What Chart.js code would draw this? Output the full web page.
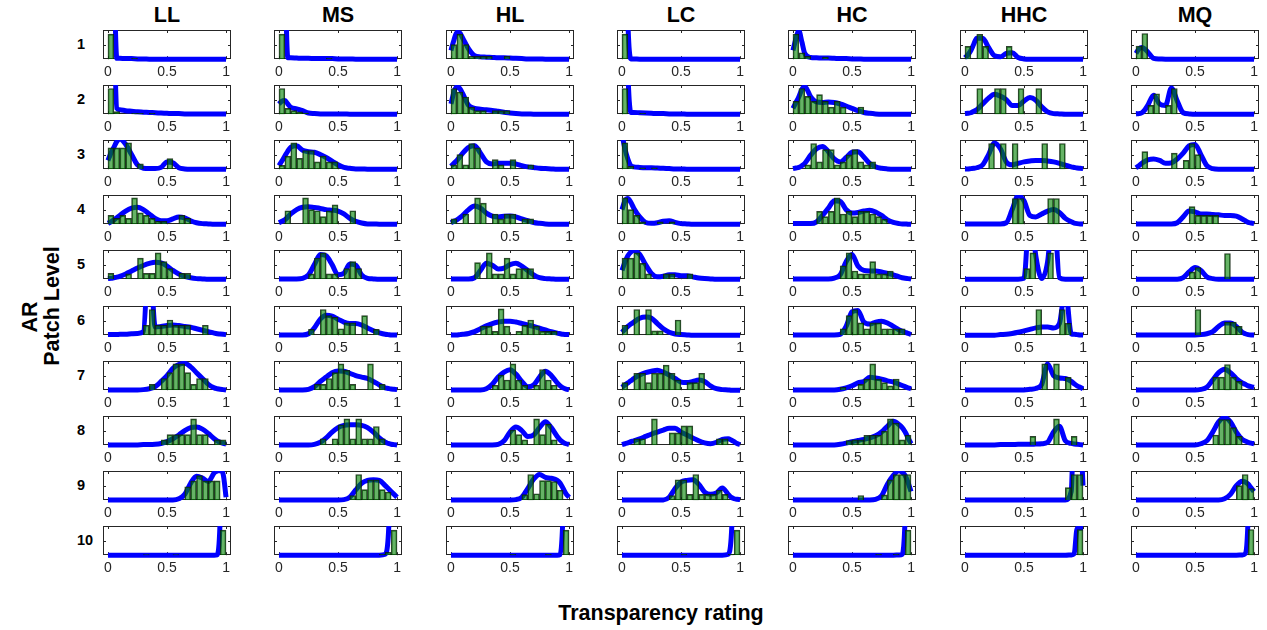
<!DOCTYPE html>
<html>
<head>
<meta charset="utf-8">
<title>Transparency rating by AR patch level</title>
<script src="https://cdn.jsdelivr.net/npm/chart.js@4.4.1/dist/chart.umd.min.js"></script>
<style>
  body { margin: 0; background: #fff; }
  #fig { position: relative; width: 1267px; height: 630px; overflow: hidden; font-family: "Liberation Sans", Arial, Helvetica, sans-serif; }
  #fig canvas { position: absolute; }
  .lbl { position: absolute; font-weight: bold; color: #000; white-space: nowrap; transform: translate(-50%, -50%); }
  .rot { transform: translate(-50%, -50%) rotate(-90deg); }
</style>
</head>
<body>
<div id="fig"></div>
<script>
const groups = ["LL", "MS", "HL", "LC", "HC", "HHC", "MQ"];
const levels = ["1", "2", "3", "4", "5", "6", "7", "8", "9", "10"];
const xTicks = [0, 0.5, 1];
const binCenters = [0.025, 0.075, 0.125, 0.175, 0.225, 0.275, 0.325, 0.375, 0.425, 0.475,
                    0.525, 0.575, 0.625, 0.675, 0.725, 0.775, 0.825, 0.875, 0.925, 0.975];
// curve sample positions, denser near both ends where the densities jump
const curveX = [0, 0.025, 0.05, 0.075, 0.1,
                0.15, 0.2, 0.25, 0.3, 0.35, 0.4, 0.45,
                0.5, 0.55, 0.6, 0.65, 0.7, 0.75, 0.8, 0.85, 0.9,
                0.925, 0.95, 0.975, 1];

// histogram heights (fraction of panel height), one row per patch level
const histLL = [
  [0.86,0,0,0,0.03,0,0,0,0,0,0,0,0,0,0,0,0,0,0,0],
  [0.88,0.09,0,0,0.03,0.03,0,0.03,0,0,0,0,0,0,0,0,0,0,0,0],
  [0.73,0.73,0.73,0.9,0,0.18,0,0,0,0,0.36,0,0,0,0,0,0,0,0,0],
  [0.3,0.2,0.3,0.2,0.9,0.39,0.3,0.2,0.1,0.1,0,0,0.3,0.2,0,0,0,0,0,0],
  [0.2,0,0,0.18,0,0.72,0.2,0.2,0.9,0.6,0.36,0,0.2,0.2,0,0,0,0,0,0],
  [0,0,0,0,0,0,0.34,0.88,0.34,0.34,0.52,0.34,0.34,0.34,0,0,0.34,0,0,0],
  [0,0,0,0,0,0,0,0.2,0,0.4,0.6,0.9,0.9,0.6,0.2,0.4,0.4,0,0,0],
  [0,0,0,0,0,0,0,0,0,0.18,0.36,0.36,0.36,0.36,0.9,0.36,0.36,0,0.18,0.18],
  [0,0,0,0,0,0,0,0,0,0,0,0,0,0.46,0.66,0.84,0.66,0.66,0.66,0],
  [0,0,0,0,0,0,0.02,0,0,0,0,0.02,0,0,0,0,0,0,0,0.86]
];
const histMS = [
  [0.86,0,0,0,0,0,0,0,0.03,0,0,0,0,0,0,0,0,0,0,0],
  [0.88,0.2,0.12,0.08,0.04,0,0,0,0,0,0,0,0,0,0,0,0,0,0,0],
  [0.13,0.45,0.9,0.37,0.64,0.64,0.25,0.45,0.25,0.25,0,0,0,0,0,0,0,0,0,0],
  [0,0.46,0,0,0.9,0.5,0.46,0.26,0.46,0.66,0,0,0.46,0,0,0,0,0,0,0],
  [0,0,0,0,0,0.18,0.72,0.9,0.18,0.18,0,0.36,0.6,0.36,0,0,0,0,0,0],
  [0,0,0,0,0,0.2,0,0.88,0.67,0.61,0.22,0.42,0.42,0,0.67,0,0.2,0,0,0],
  [0,0,0,0,0,0,0.2,0.2,0.4,0.6,0.9,0.68,0.2,0,0,0.9,0,0.2,0,0],
  [0,0,0,0,0,0,0,0.22,0,0.22,0.7,0.9,0.22,0.9,0.22,0.22,0.64,0.22,0,0],
  [0,0,0,0,0,0,0,0,0,0,0,0,0.16,0.88,0.36,0.7,0.7,0.36,0.28,0],
  [0,0,0,0,0,0,0,0,0,0,0,0,0,0,0,0,0,0.03,0.1,0.86]
];
const histHL = [
  [0.5,0.86,0.5,0.1,0.1,0.1,0.1,0,0,0.1,0,0,0,0,0,0,0,0,0,0],
  [0.88,0.76,0.59,0.24,0.12,0.12,0,0.12,0.12,0.12,0,0,0,0,0,0,0,0,0,0],
  [0.15,0.5,0.15,0.88,0.73,0,0,0.33,0.15,0,0.33,0,0,0.15,0,0,0,0,0,0],
  [0.18,0,0.35,0,0.9,0.72,0,0.35,0.18,0.35,0.35,0,0.18,0.18,0,0,0,0,0,0],
  [0,0,0,0,0.57,0,0.9,0.18,0.18,0.72,0.18,0.36,0.36,0.36,0,0,0,0,0,0],
  [0,0,0,0,0,0.31,0.31,0.13,0.9,0.31,0,0.13,0.34,0.52,0.31,0.13,0.13,0.13,0,0],
  [0,0,0,0,0,0,0,0.17,0.52,0.35,0.9,0.35,0.17,0,0.17,0.71,0.35,0.17,0,0],
  [0,0,0,0,0,0,0,0,0,0,0.52,0.36,0.18,0,0.9,0.36,0.72,0.18,0,0],
  [0,0,0,0,0,0,0,0,0,0,0,0,0.19,0.88,0.22,0.67,0.67,0.64,0.34,0],
  [0,0,0,0,0,0,0,0,0,0,0.03,0,0,0,0,0,0.03,0,0,0.86]
];
const histLC = [
  [0.86,0,0,0,0,0,0,0,0,0,0,0,0,0,0,0,0,0,0,0],
  [0.88,0,0,0.03,0,0,0,0,0,0,0,0,0,0,0,0,0,0,0,0],
  [0.9,0.1,0,0.05,0,0.05,0,0,0,0,0,0,0,0,0,0,0,0,0,0],
  [0.9,0.5,0.3,0.08,0,0,0.08,0,0.08,0,0,0,0,0,0,0,0,0,0,0],
  [0.72,0.72,0.9,0.54,0.18,0,0,0.18,0.18,0,0,0.18,0,0,0,0,0,0,0,0],
  [0.34,0,0.88,0,0.88,0.15,0.15,0,0,0.52,0,0,0,0,0,0,0,0,0,0],
  [0.26,0,0.58,0.58,0.26,0.58,0.58,0.86,0.58,0.35,0,0.26,0.26,0.58,0,0,0,0,0,0],
  [0,0,0.22,0.22,0,0.9,0,0,0.42,0.42,0.66,0.66,0,0,0,0,0.22,0.22,0,0],
  [0,0,0,0,0,0,0,0,0.16,0.7,0.7,0.2,0.88,0.2,0.2,0.2,0.34,0.2,0,0],
  [0,0,0,0,0,0,0,0,0,0,0.03,0,0,0,0,0,0,0,0.03,0.86]
];
const histHC = [
  [0.86,0.22,0.1,0,0,0.07,0,0,0,0,0,0,0,0,0,0,0,0,0,0],
  [0.44,0.88,0.61,0.44,0.67,0.44,0.24,0.44,0.24,0,0,0.24,0,0,0,0,0,0,0,0],
  [0,0,0.15,0.88,0.25,0.67,0.67,0.15,0.25,0.49,0.67,0.25,0.15,0.25,0,0,0,0,0,0],
  [0,0,0,0,0.44,0.26,0.44,0.9,0.35,0.44,0.26,0.44,0.44,0.35,0.26,0.17,0,0,0,0],
  [0,0,0,0,0,0,0,0,0.46,0.9,0.28,0.18,0.18,0.6,0.18,0.18,0.28,0,0,0],
  [0,0,0,0,0,0,0,0,0.22,0.67,0.88,0.42,0.22,0.42,0.42,0.22,0.22,0.22,0.22,0],
  [0,0,0,0,0,0,0,0,0.1,0,0,0.2,0.38,0.9,0.38,0.26,0.15,0.38,0,0],
  [0,0,0,0,0,0,0,0,0,0.16,0.18,0.18,0.34,0.34,0.34,0.48,0.9,0.76,0.18,0.34],
  [0,0,0,0,0,0,0,0,0,0,0,0.16,0,0,0,0.18,0.7,0.88,0.88,0.88],
  [0,0,0,0,0,0,0,0,0,0,0,0,0,0,0.03,0,0,0.03,0,0.86]
];
const histHHC = [
  [0.44,0,0.85,0.44,0,0,0,0.44,0,0,0,0,0,0,0,0,0,0,0,0],
  [0,0,0.88,0,0,0.88,0.88,0,0,0.88,0,0,0.88,0,0,0,0,0,0,0],
  [0,0,0,0,0.88,0,0.88,0,0.88,0,0,0,0,0.88,0,0,0.88,0,0,0],
  [0,0,0,0,0,0,0,0,0.88,0.88,0,0,0,0,0.88,0.88,0,0,0,0],
  [0,0,0,0,0,0,0,0,0,0,0.36,0.9,0,0,0.9,0,0,0,0,0],
  [0,0,0,0,0,0,0,0,0,0,0,0,0.88,0,0,0,0.88,0.41,0,0],
  [0,0,0,0,0,0,0,0,0,0,0,0,0,0.9,0,0.9,0,0.44,0,0],
  [0,0,0,0,0,0,0,0,0,0,0,0.3,0,0,0,0.9,0,0,0.3,0],
  [0,0,0,0,0,0,0,0,0,0,0,0,0,0,0,0,0,0.43,0.88,0.88],
  [0,0,0,0,0,0,0,0,0,0,0,0,0,0,0,0,0,0,0,0.88]
];
const histMQ = [
  [0.45,0.88,0,0,0,0,0,0,0,0,0,0,0,0,0,0,0,0,0,0],
  [0,0,0.3,0.7,0,0.3,0.88,0,0,0,0,0,0,0,0,0,0,0,0,0],
  [0,0.6,0,0,0,0,0.55,0,0.3,0.88,0.5,0,0,0,0,0,0,0,0,0],
  [0,0,0,0,0,0,0,0,0,0.6,0.3,0.3,0.3,0.3,0,0,0,0,0,0],
  [0,0,0,0,0,0,0,0,0,0.25,0.4,0,0,0,0,0.88,0,0,0,0],
  [0,0,0,0,0,0,0,0,0,0,0.88,0,0,0,0,0.45,0.45,0.3,0,0],
  [0,0,0,0,0,0,0,0,0,0,0,0,0,0.45,0.45,0.88,0.45,0.3,0,0],
  [0,0,0,0,0,0,0,0,0,0,0,0,0,0.35,0.88,0.88,0.6,0.3,0,0],
  [0,0,0,0,0,0,0,0,0,0,0,0,0,0,0,0,0,0.5,0.88,0.4],
  [0,0,0,0,0,0,0,0,0,0,0,0,0,0,0,0,0,0,0,0.88]
];

// density curves sampled at curveX, same vertical units (values above 1 leave the panel)
const curveLL = [
  [6,6,3,0.03,0.03,  0.02,0.02,0.01,0.01,0,0,0,  0,0,0,0,0,0,0,0,0,  0,0,0,0],
  [6,6,3,0.2,0.15,  0.12,0.1,0.08,0.07,0.06,0.05,0.04,  0.03,0.02,0.02,0.01,0.01,0.01,0.01,0.01,0.01,  0.01,0.01,0.01,0.01],
  [0.3,0.55,0.75,0.95,1.03,  0.85,0.5,0.15,0.03,0.02,0.02,0.06,  0.25,0.22,0.05,0.01,0,0,0,0,0,  0,0,0,0],
  [0.03,0.08,0.15,0.22,0.3,  0.45,0.55,0.58,0.5,0.35,0.2,0.12,  0.12,0.18,0.25,0.22,0.12,0.05,0.02,0.01,0,  0,0,0,0],
  [0.02,0.03,0.05,0.07,0.1,  0.18,0.28,0.38,0.47,0.54,0.58,0.56,  0.45,0.3,0.18,0.1,0.05,0.02,0.01,0,0,  0,0,0,0],
  [0.02,0.02,0.02,0.02,0.03,  0.03,0.05,0.06,0.12,3,0.28,0.3,  0.33,0.35,0.33,0.3,0.27,0.22,0.17,0.12,0.07,  0.05,0.04,0.03,0.02],
  [0.01,0.01,0.01,0.01,0.01,  0.01,0.01,0.01,0.02,0.05,0.12,0.3,  0.5,0.75,0.88,0.92,0.8,0.6,0.4,0.2,0.08,  0.05,0.03,0.02,0.01],
  [0.01,0.01,0.01,0.01,0.01,  0.01,0.01,0.01,0.02,0.02,0.03,0.06,  0.12,0.22,0.35,0.5,0.6,0.62,0.55,0.4,0.22,  0.15,0.1,0.06,0.04],
  [0.01,0.01,0.01,0.01,0.01,  0.01,0.01,0.01,0.01,0.01,0.01,0.01,  0.01,0.01,0.05,0.2,0.58,0.82,0.76,0.64,0.94,  1.0,1.02,0.9,0.1],
  [0,0,0,0,0,  0,0,0,0,0,0,0,  0,0,0,0,0,0,0,0,0,  0.01,1.2,6,6]
];
const curveMS = [
  [6,6,3,0.05,0.05,  0.04,0.03,0.03,0.02,0.02,0.02,0.02,  0.01,0.01,0.01,0,0,0,0,0,0,  0,0,0,0],
  [0.35,0.45,0.47,0.35,0.24,  0.18,0.12,0.04,0.02,0.01,0.01,0.01,  0.01,0.01,0,0,0,0,0,0,0,  0,0,0,0],
  [0.12,0.28,0.45,0.62,0.75,  0.8,0.65,0.6,0.58,0.5,0.4,0.28,  0.15,0.06,0.03,0.01,0.01,0,0,0,0,  0,0,0,0],
  [0.05,0.1,0.15,0.25,0.35,  0.5,0.58,0.6,0.57,0.54,0.5,0.48,  0.45,0.35,0.2,0.1,0.04,0.01,0.01,0,0,  0,0,0,0],
  [0.01,0.01,0.01,0.01,0.01,  0.01,0.03,0.15,0.5,0.85,0.8,0.5,  0.15,0.2,0.52,0.48,0.15,0.03,0.01,0,0,  0,0,0,0],
  [0.01,0.01,0.01,0.01,0.01,  0.01,0.01,0.05,0.25,0.55,0.68,0.65,  0.55,0.45,0.4,0.4,0.35,0.25,0.15,0.08,0.03,  0.02,0.01,0.01,0.01],
  [0.01,0.01,0.01,0.01,0.01,  0.01,0.01,0.03,0.12,0.3,0.45,0.6,  0.66,0.65,0.58,0.5,0.45,0.4,0.3,0.18,0.08,  0.06,0.04,0.03,0.02],
  [0.01,0.01,0.01,0.01,0.01,  0.01,0.01,0.01,0.03,0.1,0.25,0.45,  0.6,0.68,0.7,0.7,0.68,0.6,0.45,0.25,0.1,  0.06,0.03,0.02,0.01],
  [0.01,0.01,0.01,0.01,0.01,  0.01,0.01,0.01,0.01,0.01,0.01,0.01,  0.01,0.02,0.1,0.35,0.58,0.68,0.7,0.68,0.5,  0.4,0.3,0.2,0.1],
  [0,0,0,0,0,  0,0,0,0,0,0,0,  0,0,0,0,0,0,0,0,0.03,  0.6,3,6,6]
];
const curveHL = [
  [0.3,0.65,0.92,0.9,0.72,  0.35,0.12,0.08,0.07,0.06,0.05,0.05,  0.04,0.03,0.02,0.01,0.01,0.01,0,0,0,  0,0,0,0],
  [0.35,0.75,0.95,0.88,0.7,  0.3,0.2,0.17,0.15,0.13,0.1,0.07,  0.04,0.02,0.01,0.01,0,0,0,0,0,  0,0,0,0],
  [0.1,0.2,0.3,0.42,0.55,  0.75,0.8,0.55,0.25,0.18,0.2,0.2,  0.2,0.18,0.12,0.08,0.06,0.03,0.02,0.01,0,  0,0,0,0],
  [0.05,0.1,0.15,0.22,0.3,  0.5,0.62,0.55,0.38,0.28,0.25,0.27,  0.28,0.25,0.18,0.12,0.06,0.03,0.01,0,0,  0,0,0,0],
  [0.01,0.01,0.01,0.01,0.01,  0.01,0.05,0.3,0.55,0.48,0.35,0.38,  0.5,0.55,0.45,0.3,0.15,0.05,0.02,0.01,0,  0,0,0,0],
  [0.01,0.01,0.01,0.02,0.03,  0.06,0.12,0.22,0.32,0.4,0.45,0.48,  0.48,0.45,0.4,0.35,0.3,0.24,0.18,0.12,0.07,  0.05,0.03,0.02,0.02],
  [0.01,0.01,0.01,0.01,0.01,  0.01,0.01,0.01,0.05,0.2,0.45,0.62,  0.7,0.55,0.3,0.12,0.18,0.45,0.65,0.5,0.25,  0.15,0.08,0.04,0.02],
  [0.01,0.01,0.01,0.01,0.01,  0.01,0.01,0.01,0.01,0.01,0.03,0.15,  0.45,0.62,0.5,0.3,0.35,0.6,0.8,0.6,0.3,  0.18,0.1,0.05,0.03],
  [0.01,0.01,0.01,0.01,0.01,  0.01,0.01,0.01,0.01,0.01,0.01,0.01,  0.01,0.02,0.1,0.4,0.72,0.88,0.78,0.75,0.68,  0.58,0.4,0.22,0.1],
  [0,0,0,0,0,  0,0,0,0,0,0,0,  0,0,0,0,0,0,0,0,0,  0.02,1.5,6,6]
];
const curveLC = [
  [6,6,1.3,0.01,0.01,  0,0,0,0,0,0,0,  0,0,0,0,0,0,0,0,0,  0,0,0,0],
  [6,6,1.5,0.06,0.06,  0.05,0.04,0.03,0.02,0.02,0.01,0.01,  0.01,0,0,0,0,0,0,0,0,  0,0,0,0],
  [1.2,0.7,0.35,0.12,0.08,  0.06,0.05,0.05,0.04,0.03,0.02,0.01,  0.01,0,0,0,0,0,0,0,0,  0,0,0,0],
  [0.5,0.8,0.88,0.75,0.55,  0.25,0.06,0.03,0.05,0.1,0.12,0.06,  0.02,0.01,0,0,0,0,0,0,0,  0,0,0,0],
  [0.3,0.58,0.8,0.93,0.98,  0.85,0.5,0.2,0.08,0.1,0.15,0.15,  0.12,0.12,0.08,0.04,0.02,0.01,0,0,0,  0,0,0,0],
  [0.1,0.2,0.3,0.38,0.45,  0.58,0.62,0.58,0.4,0.22,0.1,0.04,  0.02,0.01,0,0,0,0,0,0,0,  0,0,0,0],
  [0.1,0.18,0.25,0.32,0.4,  0.52,0.6,0.65,0.68,0.62,0.52,0.4,  0.28,0.26,0.3,0.35,0.3,0.15,0.05,0.02,0.01,  0,0,0,0],
  [0.02,0.05,0.08,0.12,0.15,  0.22,0.3,0.38,0.45,0.52,0.58,0.58,  0.45,0.35,0.25,0.15,0.08,0.05,0.1,0.2,0.22,  0.18,0.12,0.06,0.02],
  [0.01,0.01,0.01,0.01,0.01,  0.01,0.01,0.01,0.01,0.01,0.1,0.4,  0.62,0.68,0.7,0.55,0.28,0.2,0.25,0.42,0.2,  0.1,0.05,0.03,0.02],
  [0,0,0,0,0,  0,0,0,0,0,0,0,  0,0,0,0,0,0,0,0,0.03,  0.6,3,6,6]
];
const curveHC = [
  [0.3,0.7,0.97,0.6,0.2,  0.06,0.05,0.04,0.04,0.03,0.02,0.02,  0.01,0.01,0,0,0,0,0,0,0,  0,0,0,0],
  [0.2,0.4,0.6,0.85,0.95,  0.6,0.42,0.4,0.42,0.4,0.35,0.28,  0.2,0.12,0.06,0.03,0.01,0,0,0,0,  0,0,0,0],
  [0.02,0.04,0.06,0.12,0.2,  0.48,0.7,0.78,0.6,0.35,0.25,0.4,  0.58,0.6,0.42,0.2,0.08,0.03,0.01,0,0,  0,0,0,0],
  [0.02,0.02,0.02,0.02,0.02,  0.02,0.08,0.3,0.55,0.8,0.78,0.5,  0.38,0.4,0.45,0.48,0.42,0.3,0.15,0.06,0.02,  0.01,0.01,0,0],
  [0.01,0.01,0.01,0.01,0.01,  0.01,0.01,0.01,0.01,0.04,0.15,0.6,  0.85,0.45,0.3,0.28,0.28,0.25,0.2,0.15,0.08,  0.05,0.03,0.02,0.01],
  [0.01,0.01,0.01,0.01,0.01,  0.01,0.01,0.01,0.01,0.01,0.03,0.3,  0.8,0.85,0.45,0.38,0.45,0.48,0.42,0.3,0.18,  0.14,0.1,0.06,0.03],
  [0.01,0.01,0.01,0.01,0.01,  0.01,0.01,0.01,0.01,0.01,0.03,0.08,  0.15,0.25,0.3,0.44,0.42,0.38,0.32,0.28,0.2,  0.16,0.12,0.08,0.05],
  [0.01,0.01,0.01,0.01,0.01,  0.01,0.01,0.01,0.01,0.01,0.03,0.07,  0.12,0.16,0.2,0.25,0.32,0.45,0.65,0.82,0.7,  0.6,0.45,0.25,0.05],
  [0.01,0.01,0.01,0.01,0.01,  0.01,0.01,0.01,0.01,0.01,0.01,0.01,  0.01,0.01,0.01,0.01,0.03,0.15,0.55,0.85,1.02,  0.95,0.85,0.6,0.3],
  [0,0,0,0,0,  0,0,0,0,0,0,0,  0,0,0,0,0,0,0,0,0.01,  0.03,1.3,6,6]
];
const curveHHC = [
  [0.05,0.15,0.3,0.52,0.72,  0.72,0.4,0.12,0.08,0.2,0.22,0.06,  0.01,0,0,0,0,0,0,0,0,  0,0,0,0],
  [0.02,0.03,0.05,0.1,0.15,  0.35,0.55,0.68,0.62,0.5,0.3,0.3,  0.45,0.57,0.48,0.25,0.08,0.02,0.01,0,0,  0,0,0,0],
  [0.01,0.01,0.02,0.03,0.05,  0.15,0.5,0.9,0.7,0.25,0.15,0.2,  0.25,0.28,0.3,0.3,0.28,0.25,0.2,0.14,0.08,  0.06,0.04,0.03,0.02],
  [0.01,0.01,0.01,0.01,0.01,  0.01,0.01,0.01,0.01,0.05,0.5,0.98,  0.8,0.3,0.25,0.35,0.45,0.5,0.4,0.2,0.08,  0.04,0.02,0.01,0.01],
  [0,0,0,0,0,  0,0,0,0,0,0,0,  0.03,2.5,0.8,0.02,0.6,2.5,0.05,0,0,  0,0,0,0],
  [0,0,0,0,0,  0,0,0,0.02,0.03,0.06,0.1,  0.15,0.2,0.25,0.28,0.28,0.25,0.4,1.6,0.05,  0.03,0.02,0.01,0.01],
  [0.01,0.01,0.01,0.01,0.01,  0.01,0.01,0.01,0.01,0.01,0.01,0.01,  0.01,0.03,0.06,0.2,0.9,0.5,0.42,0.4,0.3,  0.22,0.15,0.1,0.05],
  [0.01,0.01,0.01,0.01,0.01,  0.01,0.01,0.01,0.02,0.02,0.02,0.03,  0.03,0.03,0.04,0.05,0.1,0.45,0.65,0.15,0.06,  0.04,0.03,0.02,0.01],
  [0.01,0.01,0.01,0.01,0.01,  0.01,0.01,0.01,0.01,0.01,0.01,0.01,  0.01,0.01,0.01,0.01,0.01,0.01,0.01,0.01,0.3,  3,3,2.5,0.5],
  [0,0,0,0,0,  0,0,0,0,0,0,0,  0,0,0,0,0,0,0,0,0.01,  0.05,0.92,0.93,0.93]
];
const curveMQ = [
  [0.2,0.35,0.4,0.35,0.25,  0.03,0.01,0,0,0,0,0,  0,0,0,0,0,0,0,0,0,  0,0,0,0],
  [0.01,0.02,0.05,0.15,0.3,  0.65,0.35,0.3,0.9,0.45,0.05,0.01,  0,0,0,0,0,0,0,0,0,  0,0,0,0],
  [0.05,0.12,0.2,0.27,0.32,  0.35,0.3,0.2,0.22,0.35,0.55,0.8,  0.85,0.5,0.12,0.02,0,0,0,0,0,  0,0,0,0],
  [0.01,0.01,0.01,0.01,0.01,  0.01,0.01,0.01,0.01,0.05,0.25,0.45,  0.42,0.35,0.35,0.33,0.32,0.3,0.3,0.28,0.18,  0.12,0.06,0.04,0.02],
  [0,0,0,0,0,  0,0,0,0,0,0.05,0.25,  0.4,0.3,0.08,0.02,0,0,0,0,0,  0,0,0,0],
  [0.01,0.01,0.01,0.01,0.01,  0.01,0.01,0.01,0.01,0.01,0.01,0.01,  0.01,0.02,0.05,0.12,0.3,0.42,0.42,0.3,0.1,  0.05,0.02,0.01,0.01],
  [0.01,0.01,0.01,0.01,0.01,  0.01,0.01,0.01,0.01,0.01,0.01,0.01,  0.01,0.03,0.1,0.35,0.6,0.72,0.6,0.4,0.25,  0.2,0.15,0.12,0.1],
  [0.01,0.01,0.01,0.01,0.01,  0.01,0.01,0.01,0.01,0.01,0.01,0.01,  0.01,0.05,0.15,0.45,0.8,0.95,0.8,0.45,0.2,  0.14,0.1,0.07,0.05],
  [0.01,0.01,0.01,0.01,0.01,  0.01,0.01,0.01,0.01,0.01,0.01,0.01,  0.01,0.01,0.01,0.01,0.01,0.05,0.2,0.5,0.65,  0.62,0.55,0.42,0.3],
  [0,0,0,0,0,  0,0,0,0,0,0,0,  0,0,0,0,0,0,0,0,0.01,  0.05,1.3,6,6]
];

const histByGroup = [histLL, histMS, histHL, histLC, histHC, histHHC, histMQ];
const curveByGroup = [curveLL, curveMS, curveHL, curveLC, curveHC, curveHHC, curveMQ];

const FONT = '"Liberation Sans", Arial, Helvetica, sans-serif';
// axis strip below each panel: tick gap (5) + one 14px label line (16.8)
const boxW = 128, boxH = 29, axisH = 22;

function panelLeft(c) { return Math.round(103 + 171.3 * c); }
function panelTop(r) { return Math.round(30 + 55.1 * r); }

// thin axes frame with inward tick marks, drawn under the data
const axesBox = {
  id: "axesBox",
  beforeDatasetsDraw(chart) {
    const { ctx, chartArea: a, scales } = chart;
    ctx.save();
    ctx.strokeStyle = "#262626";
    ctx.lineWidth = 1;
    ctx.strokeRect(Math.round(a.left) + 0.5, Math.round(a.top) + 0.5,
                   Math.round(a.width) - 1, Math.round(a.height) - 1);
    ctx.beginPath();
    xTicks.forEach((v) => {
      const px = Math.round(scales.x.getPixelForValue(v)) + 0.5;
      ctx.moveTo(px, a.bottom); ctx.lineTo(px, a.bottom - 3);
      ctx.moveTo(px, a.top); ctx.lineTo(px, a.top + 3);
    });
    const my = Math.round((a.top + a.bottom) / 2) + 0.5;
    ctx.moveTo(a.left, my); ctx.lineTo(a.left + 3, my);
    ctx.moveTo(a.right, my); ctx.lineTo(a.right - 3, my);
    ctx.stroke();
    ctx.restore();
  }
};

function makePanel(canvas, hist, curve) {
  return new Chart(canvas, {
    type: "bar",
    data: {
      datasets: [
        {
          type: "bar",
          data: binCenters.map((x, i) => ({ x: x, y: hist[i] > 0 ? hist[i] : null })),
          backgroundColor: "rgba(0, 128, 0, 0.6)",
          borderColor: "rgba(10, 30, 10, 0.85)",
          borderWidth: 1,
          barPercentage: 1,
          categoryPercentage: 1,
          order: 0,
        },
        {
          type: "line",
          data: curveX.map((x, i) => ({ x: x, y: curve[i] })),
          borderColor: "#0000ff",
          borderWidth: 5,
          pointRadius: 0,
          fill: false,
          cubicInterpolationMode: "monotone",
          clip: { left: 4, top: 0, right: 4, bottom: 4 },
          order: 1,
        },
      ],
    },
    options: {
      responsive: false,
      animation: false,
      events: [],
      layout: { padding: 0 },
      plugins: { legend: { display: false }, tooltip: { enabled: false } },
      scales: {
        x: {
          type: "linear",
          min: -0.042,
          max: 1.042,
          offset: false,
          // tick marks are drawn by axesBox; tickLength only spaces the labels
          grid: { display: false, drawTicks: true, tickLength: 5 },
          border: { display: false },
          afterBuildTicks: (scale) => {
            scale.ticks = xTicks.map((v) => ({ value: v }));
          },
          ticks: {
            autoSkip: false,
            maxRotation: 0,
            padding: 0,
            color: "#262626",
            font: { family: FONT, size: 14 },
            callback: (v) => String(v),
          },
        },
        y: { display: false, min: 0, max: 1 },
      },
    },
    plugins: [axesBox],
  });
}

function addLabel(fig, text, x, y, size, extra) {
  const d = document.createElement("div");
  d.className = "lbl" + (extra ? " " + extra : "");
  d.textContent = text;
  d.style.left = x + "px";
  d.style.top = y + "px";
  d.style.fontSize = size + "px";
  fig.appendChild(d);
  return d;
}

document.addEventListener("DOMContentLoaded", function () {
  const fig = document.getElementById("fig");

  groups.forEach((g, c) => {
    addLabel(fig, g, panelLeft(c) + boxW / 2, 14.5, 21.5);
    levels.forEach((lev, r) => {
      const cv = document.createElement("canvas");
      cv.width = boxW;
      cv.height = boxH + axisH;
      cv.style.left = panelLeft(c) + "px";
      cv.style.top = panelTop(r) + "px";
      fig.appendChild(cv);
      makePanel(cv, histByGroup[c][r], curveByGroup[c][r]);
    });
  });

  // patch level numbers left of the first column
  levels.forEach((lev, r) => {
    const d = addLabel(fig, lev, 77, panelTop(r) + boxH / 2 - 1, 14.5);
    d.style.transform = "translate(0, -50%)";
  });

  addLabel(fig, "AR", 30, 317, 21.5, "rot");
  addLabel(fig, "Patch Level", 52, 306, 21.5, "rot");
  addLabel(fig, "Transparency rating", 661, 613, 21.5);
});
</script>
</body>
</html>
